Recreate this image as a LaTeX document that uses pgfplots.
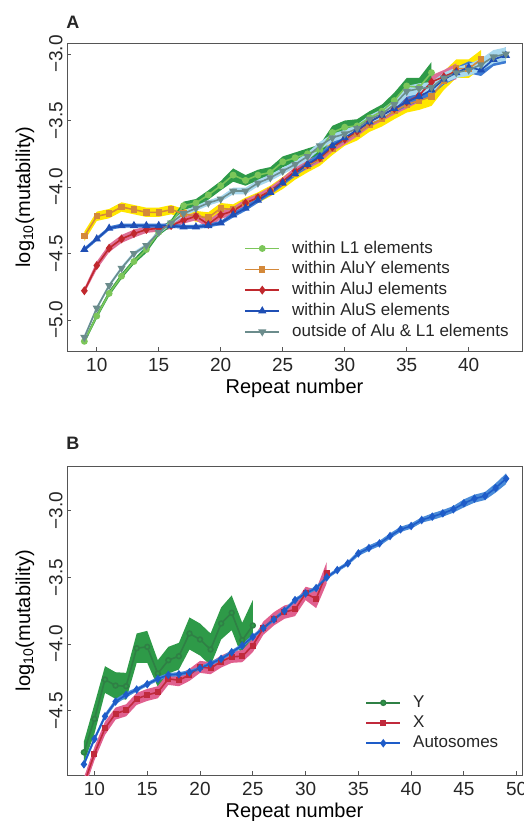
\documentclass[border=0pt]{standalone}
\usepackage{pgfplots}
\pgfplotsset{compat=1.18}
\usepackage{pgfplotstable}
\usepgfplotslibrary{fillbetween}
\usepackage{fontspec}
\setmainfont{Liberation Sans}

% panel A: repeat number, log10 mutability, band half-width
\pgfplotstableread{
x y e
9 -5.16 0.02
10 -4.97 0.02
11 -4.80 0.02
12 -4.67 0.02
13 -4.56 0.02
14 -4.47 0.025
15 -4.34 0.025
16 -4.27 0.025
17 -4.14 0.03
18 -4.12 0.03
19 -4.06 0.035
20 -3.99 0.035
21 -3.91 0.05
22 -3.95 0.04
23 -3.91 0.04
24 -3.89 0.04
25 -3.81 0.04
26 -3.78 0.04
27 -3.75 0.04
28 -3.72 0.04
29 -3.59 0.05
30 -3.55 0.05
31 -3.54 0.05
32 -3.48 0.05
33 -3.43 0.05
34 -3.35 0.06
35 -3.24 0.06
36 -3.25 0.07
37 -3.14 0.08
}\tabLone
\pgfplotstableread{
x y e
9 -4.37 0.035
10 -4.22 0.035
11 -4.20 0.035
12 -4.15 0.035
13 -4.17 0.035
14 -4.19 0.035
15 -4.19 0.035
16 -4.17 0.035
17 -4.20 0.035
18 -4.22 0.04
19 -4.23 0.04
20 -4.16 0.04
21 -4.17 0.04
22 -4.12 0.04
23 -4.08 0.04
24 -4.03 0.04
25 -3.97 0.045
26 -3.90 0.045
27 -3.84 0.05
28 -3.79 0.05
29 -3.71 0.05
30 -3.64 0.05
31 -3.60 0.05
32 -3.53 0.055
33 -3.49 0.055
34 -3.43 0.06
35 -3.38 0.06
36 -3.35 0.07
37 -3.32 0.07
38 -3.20 0.07
39 -3.11 0.07
40 -3.11 0.07
41 -3.04 0.07
}\tabAluY
\pgfplotstableread{
x y e
9 -4.78 0.02
10 -4.59 0.03
11 -4.46 0.03
12 -4.39 0.03
13 -4.35 0.03
14 -4.32 0.025
15 -4.31 0.025
16 -4.29 0.025
17 -4.25 0.025
18 -4.22 0.03
19 -4.28 0.03
20 -4.21 0.03
21 -4.18 0.03
22 -4.12 0.03
23 -4.08 0.03
24 -4.03 0.03
25 -3.96 0.03
26 -3.88 0.03
27 -3.83 0.035
28 -3.78 0.035
29 -3.70 0.035
30 -3.64 0.04
31 -3.58 0.04
32 -3.51 0.04
33 -3.46 0.045
34 -3.41 0.045
35 -3.36 0.05
36 -3.31 0.05
37 -3.21 0.05
38 -3.17 0.05
39 -3.13 0.06
}\tabAluJ
\pgfplotstableread{
x y e
9 -4.47 0.015
10 -4.39 0.015
11 -4.31 0.015
12 -4.29 0.015
13 -4.29 0.015
14 -4.29 0.015
15 -4.29 0.015
16 -4.29 0.015
17 -4.30 0.015
18 -4.30 0.015
19 -4.29 0.015
20 -4.27 0.015
21 -4.21 0.02
22 -4.16 0.02
23 -4.10 0.02
24 -4.04 0.02
25 -3.97 0.02
26 -3.90 0.02
27 -3.83 0.025
28 -3.77 0.025
29 -3.69 0.025
30 -3.63 0.025
31 -3.57 0.03
32 -3.51 0.03
33 -3.46 0.03
34 -3.41 0.03
35 -3.36 0.035
36 -3.32 0.035
37 -3.27 0.04
38 -3.19 0.04
39 -3.14 0.04
40 -3.10 0.045
41 -3.12 0.045
42 -3.04 0.05
43 -3.01 0.06
}\tabAluS
\pgfplotstableread{
x y e
9 -5.13 0.02
10 -4.91 0.015
11 -4.74 0.015
12 -4.61 0.015
13 -4.50 0.015
14 -4.44 0.015
15 -4.34 0.015
16 -4.27 0.015
17 -4.20 0.02
18 -4.16 0.02
19 -4.12 0.02
20 -4.09 0.02
21 -4.03 0.025
22 -4.03 0.025
23 -3.97 0.025
24 -3.93 0.025
25 -3.88 0.025
26 -3.83 0.025
27 -3.77 0.03
28 -3.69 0.03
29 -3.63 0.03
30 -3.60 0.03
31 -3.56 0.03
32 -3.49 0.03
33 -3.45 0.035
34 -3.38 0.035
35 -3.28 0.04
36 -3.26 0.04
37 -3.25 0.04
38 -3.18 0.04
39 -3.14 0.04
40 -3.12 0.045
41 -3.08 0.045
42 -3.02 0.05
43 -3.00 0.05
}\tabOut

% panel B
\pgfplotstableread{
x y e
9 -4.81 0.08
10 -4.56 0.11
11 -4.265 0.10
12 -4.31 0.10
13 -4.315 0.10
14 -4.03 0.11
15 -4.02 0.12
16 -4.22 0.10
17 -4.12 0.10
18 -4.09 0.10
19 -3.92 0.12
20 -3.965 0.12
21 -4.04 0.12
22 -3.845 0.12
23 -3.765 0.13
24 -3.97 0.13
25 -3.86 0.19
}\tabY
\pgfplotstableread{
x y e
9 -5.05 0.05
10 -4.82 0.05
11 -4.63 0.05
12 -4.52 0.045
13 -4.495 0.045
14 -4.41 0.045
15 -4.38 0.045
16 -4.36 0.045
17 -4.26 0.045
18 -4.27 0.045
19 -4.23 0.045
20 -4.17 0.045
21 -4.18 0.045
22 -4.13 0.045
23 -4.095 0.045
24 -4.09 0.045
25 -4.01 0.05
26 -3.88 0.05
27 -3.81 0.05
28 -3.76 0.05
29 -3.74 0.05
30 -3.62 0.05
31 -3.66 0.07
32 -3.465 0.08
}\tabX
\pgfplotstableread{
x y e
9 -4.90 0.02
10 -4.71 0.02
11 -4.54 0.02
12 -4.43 0.02
13 -4.38 0.02
14 -4.34 0.015
15 -4.30 0.015
16 -4.26 0.015
17 -4.23 0.015
18 -4.225 0.015
19 -4.21 0.015
20 -4.18 0.015
21 -4.145 0.015
22 -4.11 0.015
23 -4.06 0.015
24 -4.01 0.015
25 -3.945 0.015
26 -3.88 0.015
27 -3.815 0.015
28 -3.75 0.015
29 -3.67 0.015
30 -3.62 0.015
31 -3.58 0.015
32 -3.50 0.015
33 -3.445 0.015
34 -3.395 0.015
35 -3.32 0.02
36 -3.28 0.02
37 -3.245 0.02
38 -3.19 0.02
39 -3.14 0.02
40 -3.115 0.02
41 -3.07 0.02
42 -3.045 0.025
43 -3.02 0.025
44 -2.99 0.025
45 -2.945 0.03
46 -2.91 0.03
47 -2.89 0.03
48 -2.83 0.035
49 -2.76 0.04
}\tabAuto

\definecolor{bGreen}{HTML}{2E9A48}
\definecolor{lGreen}{HTML}{7CC65A}
\definecolor{bYellow}{HTML}{FFE600}
\definecolor{lOrange}{HTML}{D4893A}
\definecolor{bPink}{HTML}{DE6F96}
\definecolor{lRed}{HTML}{C0282D}
\definecolor{bBlue}{HTML}{3C7AD2}
\definecolor{lBlue}{HTML}{1F4FB5}
\definecolor{bLight}{HTML}{A8D8EE}
\definecolor{lGray}{HTML}{6B8C8C}
\definecolor{yGreen}{HTML}{2F8045}
\definecolor{xRed}{HTML}{C02A3C}
\definecolor{aBlue}{HTML}{1E5CC8}
\definecolor{bBlueB}{HTML}{4A8BD8}
\definecolor{bPinkB}{HTML}{E0608F}
\definecolor{axisgray}{HTML}{555555}

% band from y-e to y+e
\newcommand{\band}[3]{%
  \addplot[draw=none, name path=#3up, forget plot] table[x=x, y expr=\thisrow{y}+\thisrow{e}] {#1};
  \addplot[draw=none, name path=#3lo, forget plot] table[x=x, y expr=\thisrow{y}-\thisrow{e}] {#1};
  \addplot[fill=#2, draw=none, forget plot] fill between[of=#3up and #3lo];
}

\pgfplotsset{
  panel/.style={
    scale only axis, width=227.5pt, anchor=north west,
    axis line style={axisgray, line width=0.5pt},
    tick align=inside, xtick pos=bottom, ytick pos=left,
    major tick length=2pt, major tick style={axisgray, line width=0.5pt},
    tick label style={font=\fontsize{9.5}{11}\selectfont, text=black!85},
    xticklabel style={/pgf/number format/assume math mode=true},
    yticklabel style={rotate=90, anchor=south, inner sep=2pt},
    label style={font=\fontsize{10}{12}\selectfont, text=black!85},
    every axis x label/.style={at={(rel axis cs:0.5,0)}, anchor=center, yshift=-18.5pt},
    every axis y label/.style={at={(rel axis cs:0,0.5)}, xshift=-21pt, rotate=90, anchor=center},
    xlabel={Repeat number},
    ylabel={log\textsubscript{10}(mutability)},
    legend style={draw=none, fill=none, font=\fontsize{8.5}{10}\selectfont, text=black!85,
      inner sep=0pt, row sep=-1.25pt, column sep=4pt, anchor=north west},
    legend cell align=left,
    every axis plot/.append style={line width=0.8pt},
  },
}

\begin{document}
\begin{tikzpicture}

\node[font=\bfseries\fontsize{9}{10}\selectfont, text=black!85] at (36.5pt,-11pt) {A};
\node[font=\bfseries\fontsize{9}{10}\selectfont, text=black!85] at (36.5pt,-221.5pt) {B};

\begin{axis}[panel, at={(33.5pt,-21.5pt)}, height=154pt,
  xmin=7.6, xmax=44.3, ymin=-5.233, ymax=-2.917,
  xtick={10,15,...,40},
  ytick={-5,-4.5,-4,-3.5,-3},
  yticklabels={−5.0,−4.5,−4.0,−3.5,−3.0},
  legend style={at={(rel axis cs:0.389,0.372)}},
]
\band{\tabAluY}{bYellow}{ay}
\band{\tabAluJ}{bPink}{aj}
\band{\tabLone}{bGreen}{lo}
\band{\tabAluS}{bBlue}{as}
\band{\tabOut}{bLight}{ou}

\addplot[lGreen, mark=*, mark size=1.3pt] table[x=x, y=y] {\tabLone};
\addlegendentry{within L1 elements}
\addplot[lOrange, mark=square*, mark size=1.2pt] table[x=x, y=y] {\tabAluY};
\addlegendentry{within AluY elements}
\addplot[lRed, mark=diamond*, mark size=1.6pt] table[x=x, y=y] {\tabAluJ};
\addlegendentry{within AluJ elements}
\addplot[lBlue, mark=triangle*, mark size=1.6pt] table[x=x, y=y] {\tabAluS};
\addlegendentry{within AluS elements}
\addplot[lGray, mark=triangle*, mark size=1.6pt, mark options={rotate=180}] table[x=x, y=y] {\tabOut};
\addlegendentry{outside of Alu \& L1 elements}
\end{axis}

\begin{axis}[panel, at={(33.5pt,-233.3pt)}, height=154.2pt,
  xmin=7.4, xmax=50.5, ymin=-4.98, ymax=-2.67,
  xtick={10,15,...,50},
  ytick={-4.5,-4,-3.5,-3},
  yticklabels={−4.5,−4.0,−3.5,−3.0},
  legend style={at={(rel axis cs:0.655,0.272)}},
]
\band{\tabY}{bGreen}{yy}
\band{\tabX}{bPinkB}{xx}
\band{\tabAuto}{bBlueB}{au}

\addplot[yGreen, mark=*, mark size=1.2pt, mark options={fill=bGreen}] table[x=x, y=y] {\tabY};
\addlegendentry{Y}
\addplot[xRed, mark=square*, mark size=1.1pt] table[x=x, y=y] {\tabX};
\addlegendentry{X}
\addplot[aBlue, mark=diamond*, mark size=1.5pt] table[x=x, y=y] {\tabAuto};
\addlegendentry{Autosomes}
\end{axis}

\pgfresetboundingbox
\useasboundingbox (0,0) rectangle (262pt,-410.5pt);
\end{tikzpicture}
\end{document}
